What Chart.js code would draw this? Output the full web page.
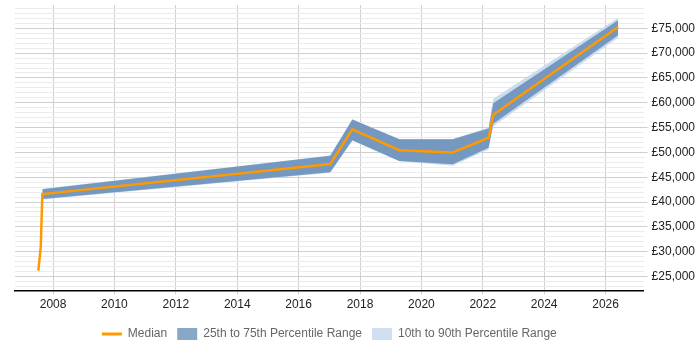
<!DOCTYPE html>
<html>
<head>
<meta charset="utf-8">
<script src="https://cdn.jsdelivr.net/npm/chart.js@4"></script>
<style>
  html, body { margin: 0; padding: 0; background: #fff; }
  #wrap { width: 700px; height: 350px; }
</style>
</head>
<body>
<div id="wrap"><canvas id="chart"></canvas></div>
<script>
// Values
const years = [2007.52, 2007.6, 2007.65, 2017.03, 2017.75, 2019.28, 2021.02, 2022.19, 2022.34, 2026.41];
const median = [26200, 31000, 41600, 47650, 54650, 50450, 50000, 52950, 57600, 75250];
const p75 = [null, null, 42600, 49350, 56650, 52650, 52650, 54800, 59900, 76650];
const p25 = [null, null, 40600, 46000, 52450, 48250, 47600, 50950, 55800, 73600];
const p90 = [null, null, 42700, 49400, 56700, 52700, 52700, 55000, 60800, 77150];
const p10 = [null, null, 40500, 45900, 52400, 48200, 47300, 50600, 55200, 73100];
const xTicks = [2008, 2010, 2012, 2014, 2016, 2018, 2020, 2022, 2024, 2026];

const FONT = "'Liberation Sans', Arial, sans-serif";
const toPoints = (vals) => years.map((x, i) => ({ x: x, y: vals[i] }));

const band = (label, vals, fill, color, order) => ({
  label: label,
  data: toPoints(vals),
  borderWidth: 0,
  pointRadius: 0,
  fill: fill,
  backgroundColor: color,
  borderColor: color,
  order: order,
});

// centre the legend under the plot area rather than the whole canvas
const legendUnderPlot = {
  id: "legendUnderPlot",
  afterLayout(chart) {
    chart.legend.left = chart.chartArea.left;
    chart.legend.right = chart.chartArea.right;
  },
};

new Chart(document.getElementById("chart").getContext("2d"), {
  type: "line",
  data: {
    datasets: [
      {
        label: "Median",
        data: toPoints(median),
        borderColor: "#ff9900",
        borderWidth: 2.5,
        pointRadius: 0,
        fill: false,
        order: 0,
      },
      band("25th to 75th Percentile Range", p75, "+1", "rgb(116, 152, 192)", 1),
      band("p25", p25, false, "rgb(116, 152, 192)", 1),
      band("10th to 90th Percentile Range", p90, "+1", "rgb(204, 220, 238)", 2),
      band("p10", p10, false, "rgb(204, 220, 238)", 2),
    ],
  },
  plugins: [legendUnderPlot],
  options: {
    responsive: true,
    maintainAspectRatio: false,
    animation: false,
    layout: { padding: { left: 15, right: 1, top: 5, bottom: 0 } },
    plugins: {
      tooltip: { enabled: false },
      legend: {
        position: "bottom",
        title: { display: true, text: " ", font: { size: 1 }, padding: { top: 1, bottom: 1 } },
        labels: {
          font: { family: FONT, size: 12 },
          color: "#222",
          usePointStyle: true,
          pointStyleWidth: 20,
          boxHeight: 12,
          padding: 10,
          generateLabels: () => [
            { text: "Median", pointStyle: "line", strokeStyle: "#ff9900", fillStyle: "#ff9900", lineWidth: 3, datasetIndex: 0 },
            { text: "25th to 75th Percentile Range", pointStyle: "rect", strokeStyle: "rgb(136, 168, 200)", fillStyle: "rgb(136, 168, 200)", lineWidth: 0, datasetIndex: 1 },
            { text: "10th to 90th Percentile Range", pointStyle: "rect", strokeStyle: "rgb(208, 224, 240)", fillStyle: "rgb(208, 224, 240)", lineWidth: 0, datasetIndex: 3 },
          ],
        },
      },
    },
    scales: {
      x: {
        type: "linear",
        min: 2006.76,
        max: 2027.24,
        afterBuildTicks: (scale) => {
          scale.ticks = xTicks.map((v) => ({ value: v }));
        },
        ticks: {
          autoSkip: false,
          maxRotation: 0,
          font: { family: FONT, size: 12 },
          color: "#222",
          callback: (value) => String(value),
        },
        grid: {
          color: "#d0d0d0",
          tickLength: 4,
        },
        border: { color: "#000", width: 1.5 },
      },
      y: {
        position: "right",
        min: 22200,
        max: 79700,
        afterBuildTicks: (scale) => {
          const t = [];
          for (let v = 23000; v <= 79000; v += 1000) t.push({ value: v });
          scale.ticks = t;
        },
        afterFit: (scale) => {
          scale.paddingTop = 0;
          scale.paddingBottom = 0;
        },
        ticks: {
          autoSkip: false,
          padding: 4,
          font: { family: FONT, size: 12 },
          color: "#222",
          callback: (value) => (value % 5000 === 0 ? "£" + value.toLocaleString("en-GB") : ""),
        },
        grid: {
          color: (ctx) => (ctx.tick && ctx.tick.value % 5000 === 0 ? "#cfcfcf" : "#ebebeb"),
          tickColor: (ctx) => (ctx.tick && ctx.tick.value % 5000 === 0 ? "#cfcfcf" : "rgba(0,0,0,0)"),
          tickLength: 4,
        },
        border: { display: false },
      },
    },
  },
});
</script>
</body>
</html>
